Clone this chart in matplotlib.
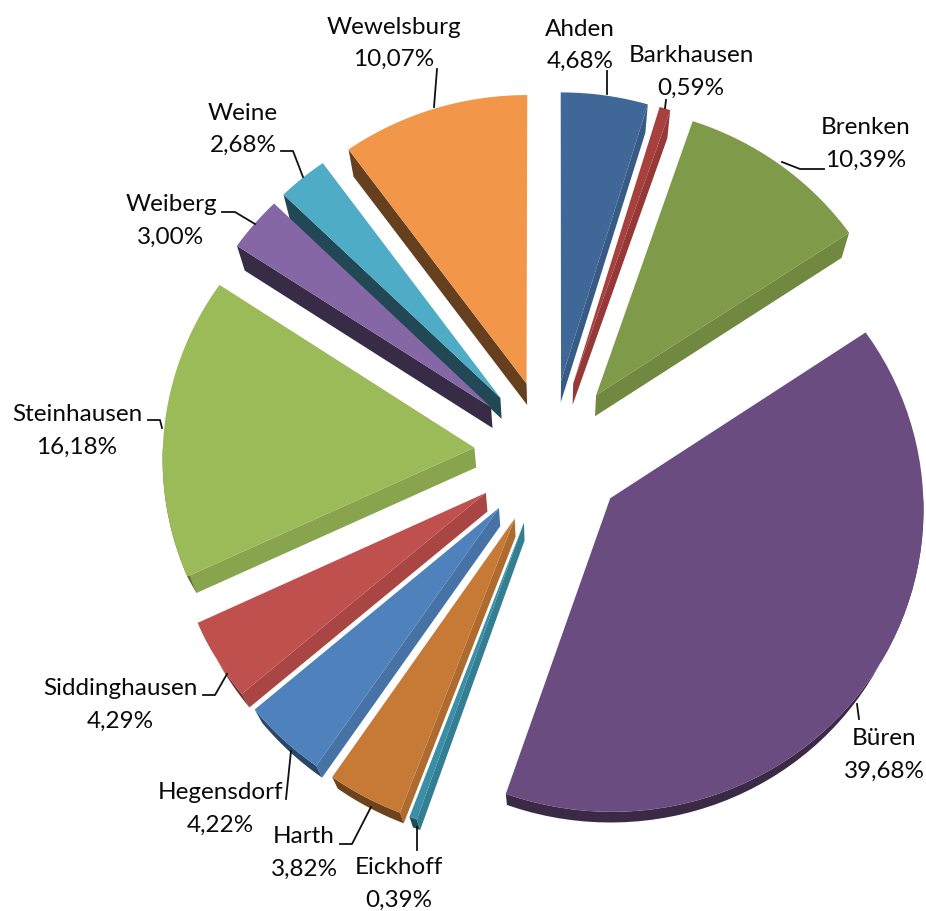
import numpy as np
import matplotlib
matplotlib.use('Agg')
import matplotlib.pyplot as plt
from matplotlib.patches import Polygon

plt.rcParams['font.family'] = ['Lato', 'DejaVu Sans']

names = ['Ahden', 'Barkhausen', 'Brenken', 'Büren', 'Eickhoff', 'Harth', 'Hegensdorf',
         'Siddinghausen', 'Steinhausen', 'Weiberg', 'Weine', 'Wewelsburg']
shares = [4.68, 0.59, 10.39, 39.68, 0.39, 3.82, 4.22, 4.29, 16.18, 3.00, 2.68, 10.07]
labels = ['4,68%', '0,59%', '10,39%', '39,68%', '0,39%', '3,82%', '4,22%', '4,29%',
          '16,18%', '3,00%', '2,68%', '10,07%']
colors = ['#3F6797', '#A8413E', '#7F9A48', '#6A4C80', '#3A8FA6', '#C67A35', '#4F81BD',
          '#C0504D', '#9BBB59', '#8567A6', '#4FACC7', '#F29749']

# label centre x, y of the first line, in picture pixels
label_pos = [(580, 29), (691, 56), (866, 128), (884, 739), (399, 868), (304, 837),
             (220, 793), (120, 689), (77, 415), (171, 205), (243, 113), (394, 27)]
leaders = [[(607, 72), (607, 95)], [(666, 101), (665, 109)],
           [(824, 170), (800, 170), (782, 163)], [(857, 705), (859, 720)],
           [(417, 828), (417, 851)], [(340, 845), (352, 845), (371, 808)],
           [(286, 800), (291, 752)], [(203, 696), (215, 696), (227, 675)],
           [(148, 421), (160, 421), (162, 429)], [(222, 213), (235, 213), (255, 225)],
           [(281, 152), (293, 152), (303, 178)], [(437, 70), (434, 108)]]

cx, cy = 550, 454
radius = 308
explode = 75
persp = 0.03
squash_x, squash_y = 1.012, 0.98
# the lower rim shrinks towards a vanishing point under the pie
vanish = np.array([550, 1239])
depth = 0.975


def project(x, y):
    s = 1 + persp * y / radius
    return np.column_stack([cx + squash_x * x * s, cy + squash_y * y * s])


def shade(col, f):
    return tuple(np.array(matplotlib.colors.to_rgb(col)) * f)


def wall_shade(nx):
    # faces turned to the left are in shadow
    return 0.42 if nx < 0 else 0.88


fig = plt.figure(figsize=(9.26, 9.12), dpi=100)
ax = fig.add_axes([0, 0, 1, 1])
ax.set_xlim(0, 926)
ax.set_ylim(912, 0)
ax.axis('off')

ends = np.cumsum(shares) / np.sum(shares) * 2 * np.pi
starts = np.r_[0, ends[:-1]]
order = sorted(range(len(shares)), key=lambda i: -np.cos((starts[i] + ends[i]) / 2))

for i in order:
    a, b = starts[i], ends[i]
    mid = (a + b) / 2
    ox, oy = explode * np.sin(mid), -explode * np.cos(mid)
    t = np.linspace(a, b, 60)
    arc = project(ox + radius * np.sin(t), oy - radius * np.cos(t))
    tip = project(np.array([ox]), np.array([oy]))
    top = np.vstack([tip, arc])
    low = vanish + (top - vanish) * depth

    # cut faces, only those turned towards the viewer
    if np.sin(a) < 0:
        quad = [top[0], top[1], low[1], low[0]]
        ax.add_patch(Polygon(quad, closed=True, fc=shade(colors[i], wall_shade(-np.cos(a))), ec='none', zorder=2))
    if np.sin(b) > 0:
        quad = [top[0], top[-1], low[-1], low[0]]
        ax.add_patch(Polygon(quad, closed=True, fc=shade(colors[i], wall_shade(np.cos(b))), ec='none', zorder=2))
    # outer rim, front half only
    front = np.cos(t) < 0
    if front.sum() > 1:
        rim = np.vstack([top[1:][front], low[1:][front][::-1]])
        ax.add_patch(Polygon(rim, closed=True, fc=shade(colors[i], 0.55), ec='none', zorder=2))
    ax.add_patch(Polygon(top, closed=True, fc=colors[i], ec='none', zorder=3))

for name, lab, (x, y) in zip(names, labels, label_pos):
    ax.text(x, y, name, ha='center', va='center', fontsize=17.5, color='#0a0a0a', zorder=5)
    ax.text(x, y + 32, lab, ha='center', va='center', fontsize=17.5, color='#0a0a0a', zorder=5)

for pts in leaders:
    xs, ys = zip(*pts)
    ax.plot(xs, ys, color='#111111', lw=1.3, zorder=4)

fig.savefig('out.png', dpi=100)
